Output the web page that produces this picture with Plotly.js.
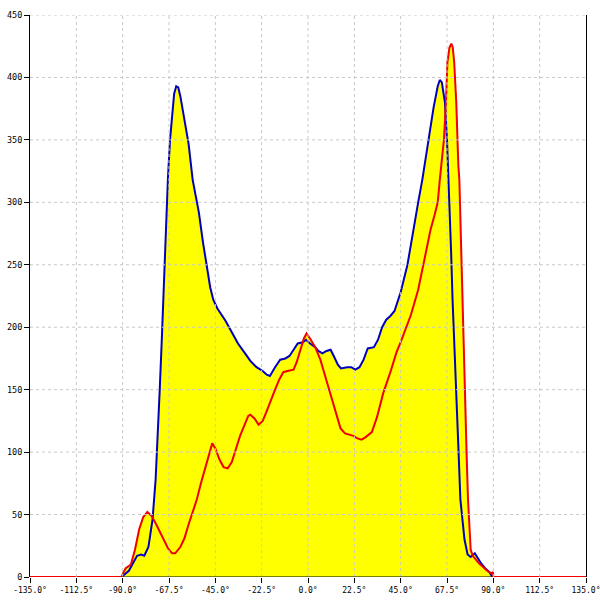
<!DOCTYPE html>
<html>
<head>
<meta charset="utf-8">
<script src="https://cdn.plot.ly/plotly-3.0.1.min.js"></script>
<style>html,body{margin:0;padding:0;background:#fff;}#chart{width:600px;height:600px;}</style>
</head>
<body>
<div id="chart"></div>
<script>
// Blue series (angle in degrees, value)
var blueX = [-90.5,-89,-87,-85,-83,-81,-79.5,-77.5,-75.5,-74,-73,-72,-71,-70,-69,-68,-67,-66,-65,-64,-63,-62,-60,-58,-56,-53,-51,-49.3,-47.5,-46,-44,-42,-40,-37,-34,-31,-28,-25,-22,-20,-18.5,-16,-13.5,-11,-9,-7,-5,-2.5,-1,1,3.5,5,7,9,11,12.5,14.5,16,19,21,23,25,27,29,32,34,36,38,40,42,45,48.3,51,53.5,55.5,58.5,61,63,64,65,66.5,67.5,68.3,69.5,70.2,71.3,72.3,73,74,75,76,77.5,79,81,82.5,84,86,88,89.6];
var blueY = [0,2,5,11,17,18,17,24,46,78,110,150,190,235,280,320,350,372,387,393,392,385,366,347,318,292,268,250,232,222,215,210,205,196,187,180,173,168,165,162,161,168,174,175,177,182,187,188,190,187,184,181,179,181,182,177,170,167,168,168,166,168,174,183,184,190,200,206,209,213,228,250,277,300,318,350,376,393,398,396,380,350,318,260,222,180,142,105,62,45,30,18,16,19,15,11,7,4,0];

// Red series (angle in degrees, value)
var redX = [-135,-90.5,-89.5,-88.5,-86,-84,-82,-80,-78,-76,-74,-72,-70,-68,-66,-64.5,-62,-60,-58,-56,-54,-52,-50,-48,-46.5,-45,-43,-41,-39,-37,-35,-33,-31,-29,-28,-26,-24,-22,-20,-18,-16,-14,-12,-10,-7,-5.5,-4,-2,-0.7,1,3.5,6,8.5,11,13.3,15.8,18,20,22,24,26,28,31,33.5,36.5,40,43,45,47.3,50,53.5,56,58,59.5,61.5,63,64,65,66,67,67.7,68.7,69.6,70.3,71,72,72.5,73,73.5,74.5,75,75.6,76.2,77,77.7,78.5,79,80,81.3,83,85,87,89,89.8,90,135];
var redY = [0,0,4,7,10,22,38,48,52,49,43,36,29,23,19,19,24,31,42,52,62,75,87,100,107,103,94,88,87,92,103,113,121,129,130,127,122,125,133,142,150,158,164,165,166,172,180,191,195,191,184,174,160,146,131,119,115,114,113,111,110,112,116,128,147,164,180,188,198,210,230,250,265,278,290,300,318,335,350,380,412,424,427,424,412,380,350,330,318,250,222,180,140,100,62,40,22,17,14,11,8,5,3,4,0,0];

// Axis ticks
var xTickVals = [-135,-112.5,-90,-67.5,-45,-22.5,0,22.5,45,67.5,90,112.5,135];
var xTickText = xTickVals.map(function(v){return v.toFixed(1)+'\u00b0';});
var yTickVals = [0,50,100,150,200,250,300,350,400,450];

var yellow = '#ffff00';
var blueCol = 'rgb(0,0,190)';
var redCol = 'rgb(240,0,0)';

var traces = [
  {x: blueX, y: blueY, type:'scatter', mode:'lines', fill:'tozeroy', fillcolor: yellow, line:{width:0, color: yellow}, hoverinfo:'skip'},
  {x: redX, y: redY, type:'scatter', mode:'lines', fill:'tozeroy', fillcolor: yellow, line:{width:0, color: yellow}, hoverinfo:'skip'},
  {x: blueX, y: blueY, type:'scatter', mode:'lines', line:{width:2, color: blueCol}},
  {x: redX, y: redY, type:'scatter', mode:'lines', line:{width:2, color: redCol}}
];

var shapes = [];
var gridStyle = {color:'#c8c8c8', width:1, dash:'3px,3px'};
xTickVals.forEach(function(v, i){
  if (i === 0 || i === xTickVals.length-1) return;
  shapes.push({type:'line', layer:'above', xref:'x', yref:'paper', x0:v, x1:v, y0:0, y1:1, line:gridStyle});
});
yTickVals.forEach(function(v){
  if (v === 0) return;
  shapes.push({type:'line', layer:'above', xref:'paper', yref:'y', x0:0, x1:1, y0:v, y1:v, line:gridStyle});
});
// x axis baseline under the filled area (from the data extent)
shapes.push({type:'line', layer:'above', xref:'x', yref:'y', x0: blueX[0], x1: blueX[blueX.length-1], y0:0, y1:0, line:{color:'#000', width:1}});

var tickFont = {family:'DejaVu Sans Mono, monospace', size:8, color:'#000'};

var layout = {
  width:600, height:600,
  margin:{l:30, r:14, t:15, b:23, pad:0},
  paper_bgcolor:'#fff', plot_bgcolor:'#fff',
  showlegend:false,
  xaxis:{range:[-135,135], tickmode:'array', tickvals:xTickVals, ticktext:xTickText,
         showgrid:false, zeroline:false, showline:false, ticklabeloverflow:'allow',
         ticks:'outside', ticklen:5, tickcolor:'#000', tickwidth:1, tickfont:tickFont, fixedrange:true},
  yaxis:{range:[0,450], tickmode:'array', tickvals:yTickVals,
         showgrid:false, zeroline:false, showline:true, linecolor:'#000', linewidth:1, mirror:true,
         ticks:'outside', ticklen:5, tickcolor:'#000', tickwidth:1, tickfont:{family:'DejaVu Sans Mono, monospace', size:8.5, color:'#000'}, fixedrange:true},
  shapes: shapes,
  hovermode:false
};

Plotly.newPlot('chart', traces, layout, {staticPlot:true, displayModeBar:false});
</script>
</body>
</html>
